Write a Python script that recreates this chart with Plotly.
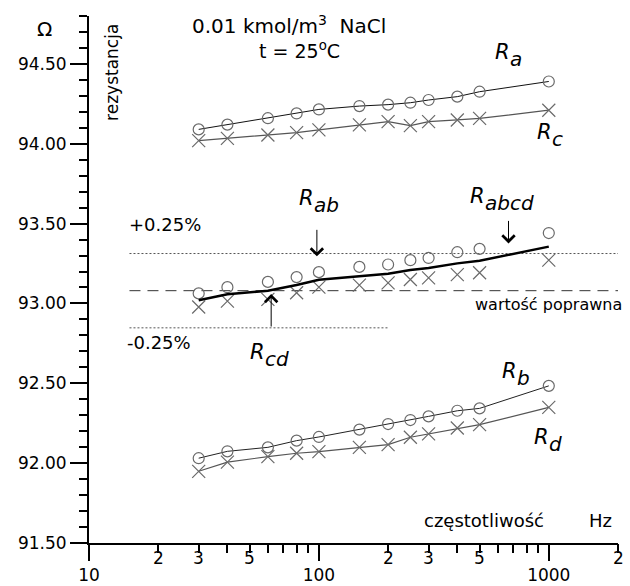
import math
import plotly.graph_objects as go

# measurement frequencies, Hz
freq = [30, 40, 60, 80, 100, 150, 200, 250, 300, 400, 500, 1000]

# resistances measured in the four cell configurations, ohm
R_a = [94.09, 94.12, 94.16, 94.19, 94.215, 94.236, 94.245, 94.257, 94.274, 94.295, 94.326, 94.39]
R_c = [94.02, 94.034, 94.055, 94.07, 94.087, 94.118, 94.139, 94.114, 94.139, 94.149, 94.159, 94.21]
R_b = [92.031, 92.074, 92.099, 92.141, 92.164, 92.21, 92.245, 92.27, 92.293, 92.328, 92.343, 92.484]
R_d = [91.949, 92.006, 92.041, 92.062, 92.072, 92.099, 92.116, 92.162, 92.183, 92.22, 92.241, 92.349]

# combined values
R_ab = [93.063, 93.102, 93.135, 93.165, 93.196, 93.229, 93.244, 93.271, 93.285, 93.321, 93.342, 93.441]
R_cd = [92.978, 93.015, 93.026, 93.067, 93.102, 93.115, 93.129, 93.15, 93.16, 93.181, 93.192, 93.271]
R_abcd = [93.02, 93.058, 93.08, 93.116, 93.149, 93.172, 93.186, 93.21, 93.222, 93.251, 93.267, 93.356]

# reference value and tolerance band
R_true = 93.08
tolerance = 0.0025
band_upper_f = [15, 2000]
band_lower_f = [15, 200]

y_ticks = [91.5, 92.0, 92.5, 93.0, 93.5, 94.0, 94.5]
x_major = [10, 100, 1000]
x_minor = [20, 30, 40, 50, 60, 70, 80, 90,
           200, 300, 400, 500, 600, 700, 800, 900, 2000]
x_minor_labelled = [20, 30, 50, 200, 300, 500, 2000]

FONT = "DejaVu Sans, Arial, sans-serif"
MARK = "#6a6a6a"

fig = go.Figure()


def circles(y, line_color=None):
    return go.Scatter(
        x=freq, y=y,
        mode="lines+markers" if line_color else "markers",
        line=dict(color=line_color or "black", width=1),
        marker=dict(symbol="circle-open", size=11, color=MARK,
                    line=dict(width=1.2, color=MARK)),
        showlegend=False, hoverinfo="skip",
    )


def crosses(y, line_color=None):
    return go.Scatter(
        x=freq, y=y,
        mode="lines+markers" if line_color else "markers",
        line=dict(color=line_color or "black", width=1.2),
        marker=dict(symbol="x-thin-open", size=13, color=MARK,
                    line=dict(width=1.2, color=MARK)),
        showlegend=False, hoverinfo="skip",
    )


# tolerance band and reference value
fig.add_trace(go.Scatter(x=band_upper_f, y=[R_true * (1 + tolerance)] * 2, mode="lines",
                         line=dict(color="#555", width=1, dash="2px,2px"),
                         showlegend=False, hoverinfo="skip"))
fig.add_trace(go.Scatter(x=band_lower_f, y=[R_true * (1 - tolerance)] * 2, mode="lines",
                         line=dict(color="#555", width=1, dash="2px,2px"),
                         showlegend=False, hoverinfo="skip"))
fig.add_trace(go.Scatter(x=band_upper_f, y=[R_true] * 2, mode="lines",
                         line=dict(color="#333", width=1, dash="11px,7px"),
                         showlegend=False, hoverinfo="skip"))

fig.add_trace(circles(R_a, "#111"))
fig.add_trace(crosses(R_c, "#555"))
fig.add_trace(circles(R_b, "#222"))
fig.add_trace(crosses(R_d, "#555"))
fig.add_trace(circles(R_ab))
fig.add_trace(crosses(R_cd))
fig.add_trace(go.Scatter(x=freq, y=R_abcd, mode="lines",
                         line=dict(color="black", width=2.5),
                         showlegend=False, hoverinfo="skip"))

# second x axis carrying the short minor ticks
fig.add_trace(go.Scatter(x=[10, 2000], y=[91.5, 91.5], xaxis="x2", mode="markers",
                         marker=dict(opacity=0), showlegend=False, hoverinfo="skip"))


def lbl(text, f, r, size=20, xanchor="left", yanchor="middle", **kw):
    fig.add_annotation(x=math.log10(f), y=r, text=text, showarrow=False,
                       xanchor=xanchor, yanchor=yanchor,
                       font=dict(family=FONT, size=size, color="black"), **kw)


def R(sub, f, r):
    # italic R with a full-size, lowered subscript
    lbl("<i>R</i>", f, r, size=21)
    lbl("<i>%s</i>" % sub, f, r, size=20, xshift=15, yshift=-7)


R("a", 569, 94.575)
R("c", 875, 94.075)
R("ab", 80, 93.66)
R("abcd", 444, 93.67)
R("cd", 49, 92.695)
R("b", 611, 92.575)
R("d", 849, 92.165)

lbl("0.01 kmol/m<sup>3</sup>&nbsp;&nbsp;NaCl", 73.8, 94.745, size=20, xanchor="center")
lbl("t = 25<sup>o</sup>C", 82.4, 94.585, size=19, xanchor="center")
lbl("rezystancja", 12.6, 94.444, size=17, xanchor="center", textangle=-90)
lbl("+0.25%", 14.7, 93.496, size=18)
lbl("-0.25%", 14.3, 92.753, size=18)
lbl("wartość poprawna", 466, 92.996, size=16)
lbl("częstotliwość", 282, 91.642, size=18)
lbl("Hz", 1472, 91.642, size=18)

# unit symbol beside the value axis
fig.add_annotation(x=-0.085, y=0.975, xref="paper", yref="paper", text="Ω",
                   showarrow=False, xanchor="center", yanchor="middle",
                   font=dict(family=FONT, size=20, color="black"))

# labels of the 2, 3 and 5 subdivisions, set just under their short ticks
for f in x_minor_labelled:
    fig.add_annotation(x=math.log10(f), y=0, yref="paper", text=str(f)[0],
                       showarrow=False, xanchor="center", yanchor="middle",
                       yshift=-15, font=dict(family=FONT, size=17, color="black"))


def pointer(f, r, dy):
    fig.add_annotation(x=math.log10(f), y=r, ax=0, ay=dy, text="",
                       showarrow=True, arrowhead=4, arrowsize=2.4,
                       arrowwidth=1, arrowcolor="black")


pointer(98, 93.295, -28)
pointer(668, 93.376, -24)
pointer(62, 93.059, 34)

tick_font = dict(family=FONT, size=17, color="black")

fig.update_layout(
    width=630, height=586,
    margin=dict(l=89, r=12, t=16, b=43),
    paper_bgcolor="white", plot_bgcolor="white",
    font=dict(family=FONT, color="black"),
    xaxis=dict(type="log", range=[1, math.log10(2000)], automargin=False,
               showline=True, linecolor="black", linewidth=2,
               showgrid=False, zeroline=False,
               tickvals=x_major, ticktext=[str(v) for v in x_major],
               ticks="outside", ticklen=16, tickwidth=2, tickcolor="black",
               tickfont=tick_font),
    xaxis2=dict(type="log", range=[1, math.log10(2000)], overlaying="x",
                anchor="y", side="bottom", automargin=False,
                showline=False, showgrid=False, zeroline=False,
                tickvals=x_minor, showticklabels=False,
                ticks="outside", ticklen=9, tickwidth=2, tickcolor="black"),
    yaxis=dict(range=[91.5, 94.8], automargin=False,
               showline=True, linecolor="black", linewidth=2,
               showgrid=False, zeroline=False,
               tickvals=y_ticks, ticktext=[f"{v:.2f}" for v in y_ticks],
               ticks="outside", ticklen=17, tickwidth=2, tickcolor="black",
               tickfont=tick_font,
               minor=dict(dtick=0.1, tick0=91.5, ticks="outside", ticklen=8,
                          tickwidth=2, tickcolor="black", showgrid=False)),
)

fig.write_html("out.html")
